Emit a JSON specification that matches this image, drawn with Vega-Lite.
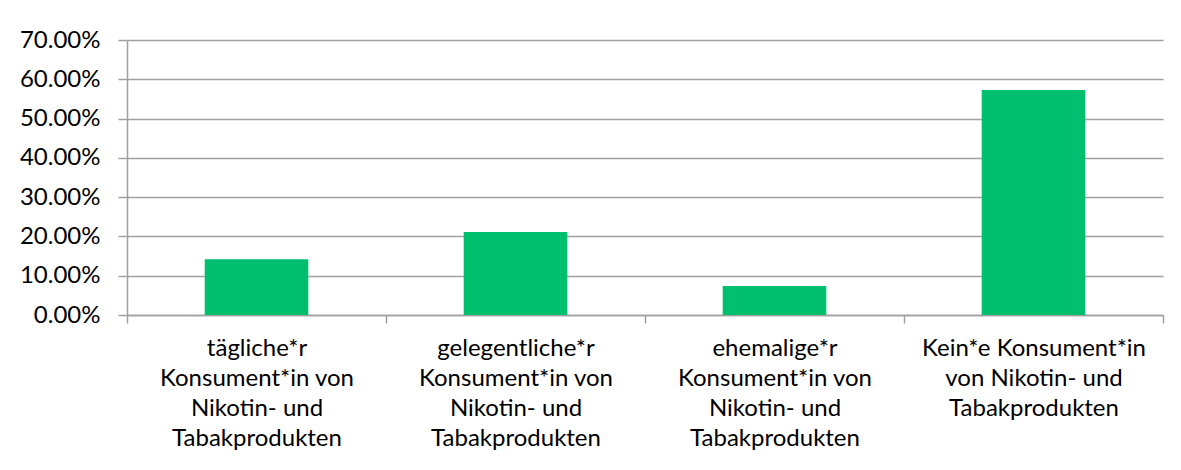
{
  "$schema": "https://vega.github.io/schema/vega-lite/v6.json",
  "width": 1036,
  "height": 275,
  "autosize": {"type": "none"},
  "padding": {"left": 127, "top": 40, "right": 18, "bottom": 155},
  "background": "white",
  "data": {
    "values": [
      {"kategorie": "tägliche*r|Konsument*in von|Nikotin- und|Tabakprodukten", "anteil": 0.142},
      {"kategorie": "gelegentliche*r|Konsument*in von|Nikotin- und|Tabakprodukten", "anteil": 0.211},
      {"kategorie": "ehemalige*r|Konsument*in von|Nikotin- und|Tabakprodukten", "anteil": 0.074},
      {"kategorie": "Kein*e Konsument*in|von Nikotin- und|Tabakprodukten", "anteil": 0.573}
    ]
  },
  "mark": {"type": "bar", "color": "#00BF6F", "width": {"band": 0.4}},
  "encoding": {
    "x": {
      "field": "kategorie",
      "type": "nominal",
      "sort": null,
      "scale": {"paddingInner": 0, "paddingOuter": 0},
      "axis": {
        "title": null,
        "labelAngle": 0,
        "labelExpr": "split(datum.label, '|')",
        "labelFont": "Lato",
        "labelFontSize": 24,
        "labelLineHeight": 30,
        "labelColor": "#000000",
        "labelLimit": 0,
        "labelPadding": 13,
        "domainColor": "#a0a0a0",
        "domainWidth": 1.5,
        "tickColor": "#a0a0a0",
        "tickWidth": 1.5,
        "tickSize": 8,
        "tickBand": "extent"
      }
    },
    "y": {
      "field": "anteil",
      "type": "quantitative",
      "scale": {"domain": [0, 0.7]},
      "axis": {
        "title": null,
        "format": ".2%",
        "values": [0, 0.1, 0.2, 0.3, 0.4, 0.5, 0.6, 0.7],
        "labelFont": "Lato",
        "labelFontSize": 24,
        "labelColor": "#000000",
        "labelPadding": 18,
        "gridColor": "#a0a0a0",
        "gridWidth": 1.5,
        "domainColor": "#a0a0a0",
        "domainWidth": 1.5,
        "tickColor": "#a0a0a0",
        "tickWidth": 1.5,
        "tickSize": 9
      }
    }
  },
  "config": {"view": {"stroke": null}}
}
